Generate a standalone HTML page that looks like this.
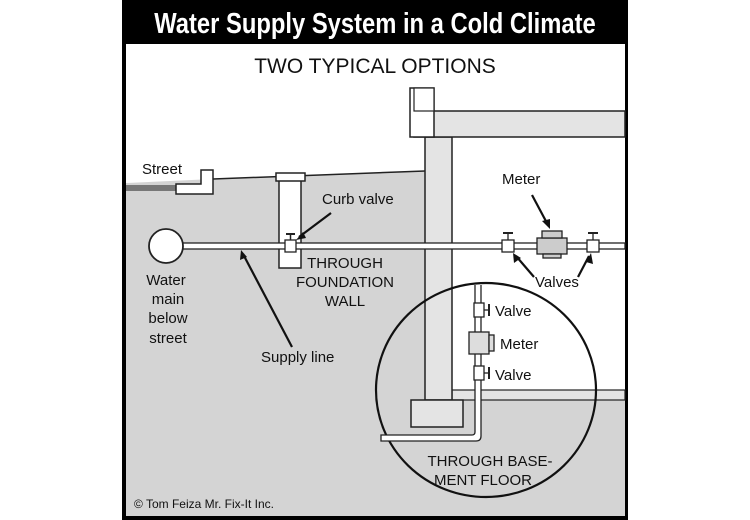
<!DOCTYPE html>
<html><head><style>
body{margin:0;background:#fff;}
svg{display:block;}
text{font-family:"Liberation Sans",sans-serif;fill:#111;}
</style></head><body>
<svg width="750" height="520" viewBox="0 0 750 520">
<rect x="0" y="0" width="750" height="520" fill="#fff"/>
<rect x="122" y="0" width="506" height="520" fill="#000"/>
<rect x="126" y="44" width="499" height="472" fill="#fff"/>
<text x="375" y="33" text-anchor="middle" font-size="29" font-weight="bold" fill="#fff" style="fill:#fff" transform="translate(375 0) scale(0.82 1) translate(-375 0)">Water Supply System in a Cold Climate</text>
<text x="375" y="73" text-anchor="middle" font-size="21">TWO TYPICAL OPTIONS</text>
<!-- ground -->
<polygon points="126,183 213,179 425,171 425,516 126,516" fill="#d4d4d4"/>
<rect x="424" y="398" width="30" height="118" fill="#d4d4d4"/>
<line x1="213" y1="179" x2="425" y2="171" stroke="#222" stroke-width="1.5"/>
<rect x="126" y="185" width="50" height="6" fill="#777"/>
<polygon points="176,184 176,194 213,194 213,170 201,170 201,184" fill="#fff" stroke="#222" stroke-width="1.5"/>
<!-- basement floor -->
<rect x="452" y="390" width="173" height="126" fill="#d4d4d4"/>
<rect x="452" y="390" width="173" height="10" fill="#e4e4e4" stroke="#222" stroke-width="1.2"/>
<!-- wall -->
<rect x="425" y="137" width="27" height="263" fill="#e4e4e4" stroke="#222" stroke-width="1.5"/>
<rect x="411" y="400" width="52" height="27" fill="#e4e4e4" stroke="#222" stroke-width="1.5"/>
<rect x="414" y="111" width="211" height="26" fill="#e4e4e4" stroke="#222" stroke-width="1.5"/>
<rect x="410" y="88" width="24" height="49" fill="#fff" stroke="#222" stroke-width="1.5"/>
<rect x="414" y="88" width="20" height="23" fill="#fff" stroke="#222" stroke-width="1.2"/>
<!-- curb box -->
<rect x="279" y="179" width="22" height="89" fill="#fff" stroke="#222" stroke-width="1.5"/>
<rect x="276" y="173" width="29" height="8" fill="#fff" stroke="#222" stroke-width="1.5"/>
<!-- main pipe -->
<rect x="180" y="243" width="445" height="6" fill="#fff" stroke="#222" stroke-width="1.3"/>
<circle cx="166" cy="246" r="17" fill="#fff" stroke="#222" stroke-width="1.8"/>
<!-- curb valve -->
<rect x="285" y="240" width="11" height="12" fill="#fff" stroke="#222" stroke-width="1.3"/>
<line x1="290.5" y1="240" x2="290.5" y2="234" stroke="#222" stroke-width="1.5"/><line x1="286" y1="234" x2="295" y2="234" stroke="#222" stroke-width="2"/>
<!-- basement valves -->
<g stroke="#222" stroke-width="1.3" fill="#fff">
<rect x="502" y="240" width="12" height="12"/><line x1="508" y1="240" x2="508" y2="233"/><line x1="503" y1="233" x2="513" y2="233" stroke-width="2"/>
<rect x="587" y="240" width="12" height="12"/><line x1="593" y1="240" x2="593" y2="233"/><line x1="588" y1="233" x2="598" y2="233" stroke-width="2"/>
<rect x="537" y="238" width="30" height="16" fill="#ccc"/><rect x="542" y="231" width="20" height="7" fill="#ccc"/><rect x="543" y="254" width="18" height="4" fill="#ccc"/>
</g>
<!-- inset circle -->
<ellipse cx="486" cy="390" rx="110" ry="107" fill="none" stroke="#111" stroke-width="2.2"/>
<path d="M475,285 L475,432 Q475,435 472,435 L381,435 L381,441 L476,441 Q481,441 481,436 L481,285" fill="#fff" stroke="#222" stroke-width="1.3"/>
<g stroke="#222" stroke-width="1.3" fill="#fff">
<rect x="474" y="303" width="10" height="14"/><line x1="484" y1="310" x2="489" y2="310"/><line x1="489" y1="304" x2="489" y2="316" stroke-width="2"/>
<rect x="474" y="366" width="10" height="14"/><line x1="484" y1="373" x2="489" y2="373"/><line x1="489" y1="367" x2="489" y2="379" stroke-width="2"/>
<rect x="469" y="332" width="20" height="22" fill="#ddd"/><rect x="489" y="335" width="5" height="16" fill="#ddd"/>
</g>
<!-- arrows -->
<g stroke="#111" stroke-width="2.2" fill="none">
<line x1="331" y1="213" x2="299" y2="237"/>
<line x1="532" y1="195" x2="548" y2="225"/>
<line x1="534" y1="277" x2="516" y2="256"/>
<line x1="578" y1="277" x2="589" y2="256"/>
<line x1="292" y1="347" x2="243" y2="254"/>
</g>
<g fill="#111">
<polygon points="296,240 303,232 306,238"/>
<polygon points="550,229 542,221 550,219"/>
<polygon points="513,253 514,263 521,258"/>
<polygon points="591,253 586,262 593,264"/>
<polygon points="241,250 240,260 247,257"/>
</g>
<!-- labels -->
<g font-size="15">
<text x="142" y="174">Street</text>
<text x="322" y="204">Curb valve</text>
<text x="502" y="184">Meter</text>
<text x="535" y="287">Valves</text>
<text x="166" y="285" text-anchor="middle">Water</text>
<text x="168" y="304" text-anchor="middle">main</text>
<text x="168" y="323" text-anchor="middle">below</text>
<text x="168" y="343" text-anchor="middle">street</text>
<text x="261" y="362">Supply line</text>
<text x="345" y="268" text-anchor="middle">THROUGH</text>
<text x="345" y="287" text-anchor="middle">FOUNDATION</text>
<text x="345" y="306" text-anchor="middle">WALL</text>
<text x="495" y="316">Valve</text>
<text x="500" y="349">Meter</text>
<text x="495" y="380">Valve</text>
<text x="490" y="466" text-anchor="middle">THROUGH BASE-</text>
<text x="483" y="485" text-anchor="middle">MENT FLOOR</text>
</g>
<text x="134" y="508" font-size="12">© Tom Feiza Mr. Fix-It Inc.</text>
</svg>
</body></html>
